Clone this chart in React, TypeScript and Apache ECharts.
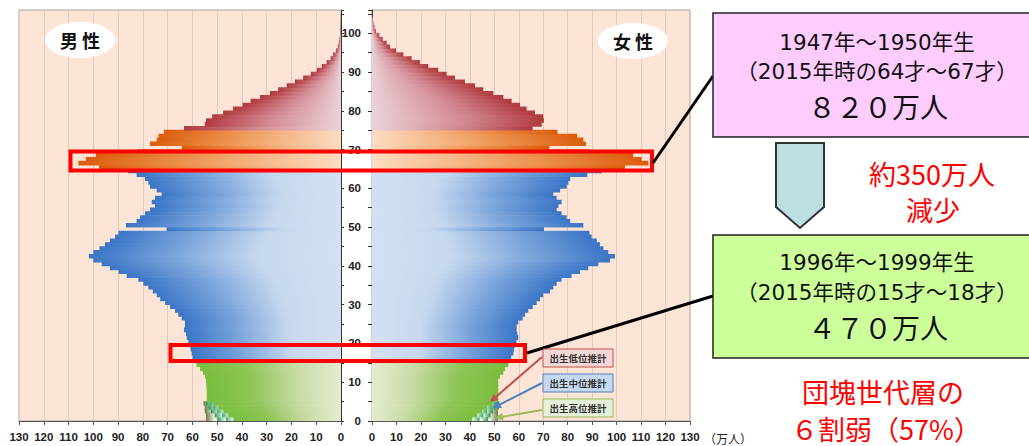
import React, { useEffect, useRef } from 'react';
import * as echarts from 'echarts';

// Ages 0..105 (one bar per age)
const ages: string[] = [
  '0','1','2','3','4','5','6','7','8','9','10','11','12','13','14','15','16','17','18','19',
  '20','21','22','23','24','25','26','27','28','29','30','31','32','33','34','35','36','37','38','39',
  '40','41','42','43','44','45','46','47','48','49','50','51','52','53','54','55','56','57','58','59',
  '60','61','62','63','64','65','66','67','68','69','70','71','72','73','74','75','76','77','78','79',
  '80','81','82','83','84','85','86','87','88','89','90','91','92','93','94','95','96','97','98','99',
  '100','101','102','103','104','105'
];

// 男性 (万人), age 0..105
const male: number[] = [
  43.5, 45.5, 47.5, 49.5, 51.5, 54.2, 54.2, 54.2, 54.3, 54.4,
  54.5, 54.9, 55.8, 56.9, 58.3, 59.5, 59.9, 60.3, 60.7, 61.0,
  61.6, 62.3, 62.6, 63.4, 63.0, 63.0, 64.3, 65.7, 67.0, 69.0,
  71.0, 73.0, 74.4, 76.0, 77.8, 79.8, 81.8, 86.5, 89.8, 93.3,
  96.6, 100.0, 101.8, 100.0, 97.5, 95.3, 93.3, 91.2, 89.8, 70.4,
  86.8, 82.5, 81.1, 79.1, 77.1, 75.1, 76.4, 75.1, 72.4, 74.4,
  77.1, 77.8, 79.1, 82.5, 86.0, 97.7, 106.0, 103.0, 99.0, 82.0,
  64.3, 77.1, 74.4, 73.7, 71.5, 63.4, 55.0, 54.5, 52.0, 47.6,
  43.6, 39.7, 36.5, 32.7, 28.7, 25.4, 21.9, 18.6, 15.3, 12.2,
  9.8, 7.8, 5.8, 4.2, 3.2, 2.0, 1.3, 0.9, 0.6, 0.4,
  0.3, 0.2, 0.1, 0.1, 0.05, 0
];

// 女性 (万人), age 0..105
const female: number[] = [
  41.0, 43.0, 45.0, 47.0, 49.0, 51.6, 51.6, 51.6, 51.6, 51.6,
  51.6, 52.3, 53.7, 54.4, 55.7, 56.4, 56.9, 57.8, 58.1, 58.5,
  59.1, 59.8, 59.4, 59.1, 59.1, 59.8, 61.6, 62.6, 63.9, 65.7,
  67.3, 68.7, 70.0, 72.8, 74.1, 75.5, 77.5, 81.6, 85.0, 88.4,
  92.5, 97.3, 99.3, 96.6, 94.6, 93.2, 91.9, 89.8, 88.9, 70.3,
  86.4, 81.0, 79.6, 77.5, 75.5, 76.2, 77.5, 75.5, 74.1, 76.9,
  79.6, 80.3, 81.0, 88.0, 94.0, 103.4, 113.0, 110.2, 106.8, 89.0,
  72.5, 87.5, 86.4, 83.9, 75.8, 65.7, 69.4, 70.3, 70.0, 66.6,
  63.2, 60.5, 57.1, 53.7, 49.6, 45.5, 42.1, 38.0, 33.9, 30.5,
  27.1, 23.0, 19.6, 16.2, 12.8, 9.8, 7.4, 6.0, 4.4, 3.0,
  1.6, 1.0, 0.6, 0.4, 0.2, 0.1
];

// 出生推計 (ages 0..4)
const maleLow: number[] = [46.5, 48.0, 50.0, 51.5, 53.0];
const maleMid: number[] = [50.0, 51.0, 52.5, 53.5, 54.5];
const maleHigh: number[] = [54.5, 54.5, 55.0, 55.0, 55.5];
const femaleLow: number[] = [44.0, 45.5, 47.0, 49.0, 50.5];
const femaleMid: number[] = [47.5, 48.5, 49.5, 50.5, 51.0];
const femaleHigh: number[] = [51.5, 51.5, 51.5, 51.8, 52.0];

const xTicks: number[] = [0, 10, 20, 30, 40, 50, 60, 70, 80, 90, 100, 110, 120, 130];

// colour stops, outer end -> centre
const RED = ['#B0393E', '#D58E98', '#EBD2D8'];
const ORANGE = ['#DC5C0A', '#F0A062', '#FCDCC3'];
const BLUE = ['#3A75C6', '#79A4DB', '#C6D8EF', '#D3E0F1'];
const GREEN = ['#78BE3E', '#8EC556', '#C6DAA2', '#E6ECD0'];
const V_HIGH = ['#6B7A42', '#FFFFFF', '#FFFFFF'];
const V_MID = ['#2C9650', '#FFFFFF', '#FFFFFF'];
const V_LOW = ['#3DAA60', '#FFFFFF', '#FFFFFF'];

const JP = '"Noto Sans CJK JP", "Noto Sans", sans-serif';
const BOXFONT = '"DejaVu Sans", "Noto Sans CJK JP", sans-serif';
const NARROW = '"Liberation Sans Narrow", "Arial Narrow", "Liberation Sans", sans-serif';

function grad(stops: string[], outerLeft: boolean, tight = false) {
  const n = stops.length;
  let cs = stops.map((c, i) => {
    let off = i / (n - 1);
    if (tight) off = i === 0 ? 0 : i === 1 ? 0.07 : 1;
    return { offset: outerLeft ? off : 1 - off, color: c };
  });
  if (!outerLeft) cs = cs.reverse();
  return new echarts.graphic.LinearGradient(0, 0, 1, 0, cs);
}

function groupStops(age: number) {
  if (age < 15) return GREEN;
  if (age < 65) return BLUE;
  if (age < 75) return ORANGE;
  return RED;
}

function mainData(vals: number[], outerLeft: boolean) {
  return vals.map((v, i) => ({ value: v, itemStyle: { color: grad(groupStops(i), outerLeft) } }));
}

function variantData(vals: number[], stops: string[], outerLeft: boolean) {
  return ages.map((_, i) =>
    i < vals.length ? { value: vals[i], itemStyle: { color: grad(stops, outerLeft, true) } } : '-'
  );
}

function arrow(x1: number, y1: number, x2: number, y2: number, color: string) {
  const a = Math.atan2(y2 - y1, x2 - x1);
  const L = 8, W = 4;
  const bx = x2 - L * Math.cos(a), by = y2 - L * Math.sin(a);
  const px = -Math.sin(a) * W, py = Math.cos(a) * W;
  return [
    { type: 'line', z: 120, shape: { x1, y1, x2: bx, y2: by }, style: { stroke: color, lineWidth: 2 } },
    { type: 'polygon', z: 120, shape: { points: [[x2, y2], [bx + px, by + py], [bx - px, by - py]] }, style: { fill: color } },
  ];
}

function txt(text: string, x: number, y: number, size: number, fill = '#111', weight = 'normal', family = JP) {
  return {
    type: 'text', z: 130, x, y,
    style: { text, fill, fontSize: size, fontWeight: weight, fontFamily: family, textAlign: 'center', textVerticalAlign: 'middle' },
  };
}

export default function App() {
  const ref = useRef<HTMLDivElement>(null);
  useEffect(() => {
    if (!ref.current) return;
    const chart = echarts.init(ref.current, undefined, { renderer: 'svg' });

    const barCommon = { type: 'bar', barGap: '-100%', barCategoryGap: '0%', barWidth: 4.6, silent: true };
    const xAxisCommon = {
      type: 'value', min: 0, max: 130, interval: 10,
      axisLine: { show: true, onZero: false, lineStyle: { color: '#555', width: 1 } },
      axisTick: { show: true, length: 4, lineStyle: { color: '#555' } },
      axisLabel: {
        color: '#222', fontSize: 11.5, fontWeight: 'bold', fontFamily: NARROW, margin: 10,
        formatter: (v: number) => (xTicks.indexOf(v) >= 0 ? String(v) : ''),
      },
      splitLine: { show: true, lineStyle: { color: '#E2CABA', width: 1 } },
    };
    const ageAxisCommon = {
      type: 'value', min: 0, max: 106, interval: 5,
      axisLine: { show: true, onZero: false, lineStyle: { color: '#333', width: 1 } },
      splitLine: { show: false },
    };

    const graphics: any[] = [
      // gender labels
      { type: 'ellipse', z: 110, shape: { cx: 80, cy: 40, rx: 35, ry: 18 }, style: { fill: '#FFFFFF' } },
      txt('男 性', 80, 40, 18, '#111', 'bold'),
      { type: 'ellipse', z: 110, shape: { cx: 633, cy: 41, rx: 35, ry: 18 }, style: { fill: '#FFFFFF' } },
      txt('女 性', 633, 41, 18, '#111', 'bold'),
      // red highlight boxes
      { type: 'rect', z: 115, shape: { x: 70.5, y: 151.5, width: 581.5, height: 19 }, style: { fill: 'none', stroke: '#FF0000', lineWidth: 4 } },
      { type: 'rect', z: 115, shape: { x: 170.5, y: 345, width: 354.5, height: 16 }, style: { fill: 'none', stroke: '#FF0000', lineWidth: 4 } },
      // connectors
      { type: 'line', z: 116, shape: { x1: 653, y1: 163, x2: 713, y2: 76 }, style: { stroke: '#000', lineWidth: 3 } },
      { type: 'line', z: 116, shape: { x1: 527, y1: 353, x2: 713, y2: 296 }, style: { stroke: '#000', lineWidth: 3 } },
      // annotation boxes
      { type: 'rect', z: 117, shape: { x: 713, y: 13, width: 330, height: 124 }, style: { fill: '#FFCCFF', stroke: '#222', lineWidth: 1.5 } },
      txt('1947年～1950年生', 877, 42, 21.5, '#111', 'normal', BOXFONT),
      txt('（2015年時の64才～67才）', 877, 71, 21.5, '#111', 'normal', BOXFONT),
      txt('８２０万人', 878, 106, 28),
      { type: 'polygon', z: 117, shape: { points: [[776, 143], [824, 143], [824, 207], [800, 228], [776, 207]] }, style: { fill: '#BCDFE2', stroke: '#333', lineWidth: 2 } },
      txt('約350万人', 932, 173, 27, '#FF0000'),
      txt('減少', 933, 209, 27, '#FF0000'),
      { type: 'rect', z: 117, shape: { x: 713, y: 235, width: 330, height: 123 }, style: { fill: '#CCFF99', stroke: '#222', lineWidth: 1.5 } },
      txt('1996年～1999年生', 877, 262, 21.5, '#111', 'normal', BOXFONT),
      txt('（2015年時の15才～18才）', 877, 292, 21.5, '#111', 'normal', BOXFONT),
      txt('４７０万人', 878, 327, 28),
      txt('団塊世代層の', 883, 391, 27, '#FF0000'),
      txt('６割弱（57%）', 886, 428, 27, '#FF0000'),
      // unit
      { type: 'text', z: 130, x: 704, y: 438, style: { text: '（万人）', fill: '#222', fontSize: 12, fontFamily: JP, textAlign: 'left', textVerticalAlign: 'middle' } },
      // projection labels
      { type: 'rect', z: 118, shape: { x: 543, y: 349, width: 70, height: 18 }, style: { fill: '#F4D7D7', stroke: '#C0504D', lineWidth: 1 } },
      txt('出生低位推計', 578, 358, 9.5, '#333', 'bold'),
      { type: 'rect', z: 118, shape: { x: 543, y: 374, width: 70, height: 18 }, style: { fill: '#C6D9F0', stroke: '#4F81BD', lineWidth: 1 } },
      txt('出生中位推計', 578, 383, 9.5, '#333', 'bold'),
      { type: 'rect', z: 118, shape: { x: 543, y: 399, width: 70, height: 18 }, style: { fill: '#E4F0DA', stroke: '#9BBB59', lineWidth: 1 } },
      txt('出生高位推計', 578, 408, 9.5, '#333', 'bold'),
      ...arrow(542, 357, 490, 402, '#C0504D'),
      ...arrow(542, 383, 493, 408, '#4F81BD'),
      ...arrow(542, 410, 495, 418, '#9BBB59'),
    ];

    chart.setOption({
      animation: false,
      backgroundColor: '#FFFFFF',
      grid: [
        { left: 19, top: 10, width: 322, height: 411, show: true, backgroundColor: '#FCE4D6', borderColor: '#A9A29C', borderWidth: 1 },
        { left: 372, top: 10, width: 318, height: 411, show: true, backgroundColor: '#FCE4D6', borderColor: '#A9A29C', borderWidth: 1 },
      ],
      xAxis: [
        { ...xAxisCommon, gridIndex: 0, inverse: true },
        { ...xAxisCommon, gridIndex: 1 },
      ],
      yAxis: [
        { type: 'category', gridIndex: 0, data: ages, show: false },
        { type: 'category', gridIndex: 1, data: ages, show: false },
        {
          ...ageAxisCommon, gridIndex: 0, position: 'right',
          axisTick: { show: true, length: 3, lineStyle: { color: '#333' } },
          axisLabel: { show: false },
        },
        {
          ...ageAxisCommon, gridIndex: 1, position: 'left',
          axisTick: { show: true, length: 4, lineStyle: { color: '#333' } },
          axisLabel: {
            show: true, margin: 11, color: '#222', fontSize: 11.5, fontWeight: 'bold', fontFamily: NARROW,
            formatter: (v: number) => (v % 10 === 0 ? String(v) : ''),
          },
        },
      ],
      series: [
        { ...barCommon, name: '男性高位', xAxisIndex: 0, yAxisIndex: 0, data: variantData(maleHigh, V_HIGH, true) },
        { ...barCommon, name: '男性中位', xAxisIndex: 0, yAxisIndex: 0, data: variantData(maleMid, V_MID, true) },
        { ...barCommon, name: '男性低位', xAxisIndex: 0, yAxisIndex: 0, data: variantData(maleLow, V_LOW, true) },
        { ...barCommon, name: '男性', xAxisIndex: 0, yAxisIndex: 0, data: mainData(male, true) },
        { ...barCommon, name: '女性高位', xAxisIndex: 1, yAxisIndex: 1, data: variantData(femaleHigh, V_HIGH, false) },
        { ...barCommon, name: '女性中位', xAxisIndex: 1, yAxisIndex: 1, data: variantData(femaleMid, V_MID, false) },
        { ...barCommon, name: '女性低位', xAxisIndex: 1, yAxisIndex: 1, data: variantData(femaleLow, V_LOW, false) },
        { ...barCommon, name: '女性', xAxisIndex: 1, yAxisIndex: 1, data: mainData(female, false) },
      ],
      graphic: graphics,
    });
    return () => chart.dispose();
  }, []);
  return <div ref={ref} style={{ position: 'fixed', left: 0, top: 0, width: 1029, height: 446 }} />;
}
